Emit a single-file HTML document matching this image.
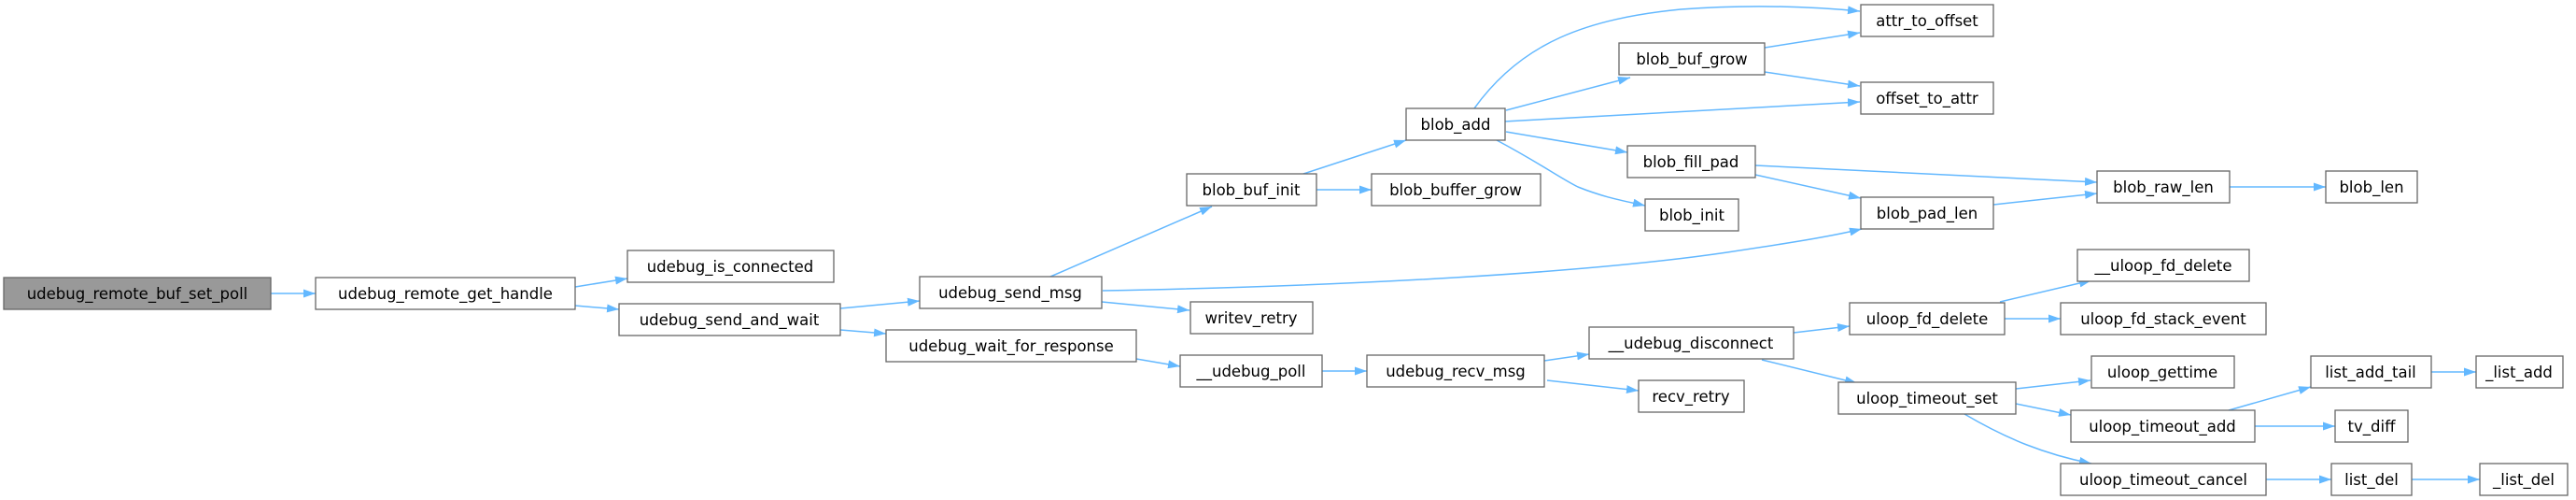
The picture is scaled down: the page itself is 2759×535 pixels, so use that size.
<!DOCTYPE html>
<html><head><meta charset="utf-8"><style>
html,body{margin:0;padding:0;background:#fff;}
svg{display:block;}
text{font-family:"DejaVu Sans","Liberation Sans",sans-serif;font-size:16.5px;fill:#000;text-anchor:middle;}
rect{fill:#fff;stroke:#666;stroke-width:1.3;}
path.e{fill:none;stroke:#63b8ff;stroke-width:1.5;}
</style></head><body>
<svg width="2759" height="535" viewBox="0 0 2759 535" xmlns="http://www.w3.org/2000/svg">
<defs><marker id="a" markerUnits="userSpaceOnUse" markerWidth="14" markerHeight="10" refX="13" refY="4.5" orient="auto"><path d="M0,0 L13,4.5 L0,9 z" fill="#63b8ff"/></marker></defs>
<g marker-end="url(#a)">
<path class="e" d="M290,314 L338,314"/>
<path class="e" d="M616,307 L672,298"/>
<path class="e" d="M616,327 L663,331"/>
<path class="e" d="M900,330 L985,322"/>
<path class="e" d="M900,353 L949,357"/>
<path class="e" d="M1125,296 L1298,221"/>
<path class="e" d="M1180,323 L1274,332"/>
<path class="e" d="M1181,311 C1450,306 1700,292 1850,270 C1930,258 1965,252 1994,245"/>
<path class="e" d="M1217,384 L1264,392"/>
<path class="e" d="M1416,397 L1464,397"/>
<path class="e" d="M1654,386 L1702,379"/>
<path class="e" d="M1657,407 L1755,418"/>
<path class="e" d="M1396,186 L1506,150"/>
<path class="e" d="M1410,203 L1469,203"/>
<path class="e" d="M1579,116 C1630,45 1700,20 1800,10 C1880,4 1950,8 1992,12"/>
<path class="e" d="M1613,118 L1746,83"/>
<path class="e" d="M1611,130 L1992,109"/>
<path class="e" d="M1613,141 L1743,163"/>
<path class="e" d="M1603,150 C1650,175 1670,190 1690,200 C1720,212 1740,215 1762,220"/>
<path class="e" d="M1890,51 L1992,35"/>
<path class="e" d="M1890,77 L1992,92"/>
<path class="e" d="M1880,177 L2246,195"/>
<path class="e" d="M1880,187 L1993,212"/>
<path class="e" d="M2135,219 L2246,207"/>
<path class="e" d="M2388,200 L2491,200"/>
<path class="e" d="M1921,356 L1981,349"/>
<path class="e" d="M1887,385 L1989,410"/>
<path class="e" d="M2142,323 L2240,300"/>
<path class="e" d="M2147,341 L2207,341"/>
<path class="e" d="M2159,416 L2239,407"/>
<path class="e" d="M2159,432 L2218,444"/>
<path class="e" d="M2104,443 C2150,470 2190,486 2240,496"/>
<path class="e" d="M2387,439 L2475,414"/>
<path class="e" d="M2415,456 L2501,456"/>
<path class="e" d="M2604,398 L2652,398"/>
<path class="e" d="M2427,513 L2497,513"/>
<path class="e" d="M2583,513 L2656,513"/>
</g>
<rect x="4" y="297" width="286" height="34" style="fill:#999"/><text x="147" y="320">udebug_remote_buf_set_poll</text>
<rect x="338" y="297" width="278" height="34"/><text x="477" y="320">udebug_remote_get_handle</text>
<rect x="672" y="268" width="221" height="34"/><text x="782" y="291">udebug_is_connected</text>
<rect x="663" y="325" width="237" height="34"/><text x="781" y="348">udebug_send_and_wait</text>
<rect x="985" y="296" width="195" height="34"/><text x="1082" y="319">udebug_send_msg</text>
<rect x="1275" y="323" width="131" height="34"/><text x="1340" y="346">writev_retry</text>
<rect x="949" y="353" width="268" height="34"/><text x="1083" y="376">udebug_wait_for_response</text>
<rect x="1264" y="380" width="152" height="34"/><text x="1340" y="403">__udebug_poll</text>
<rect x="1464" y="380" width="190" height="34"/><text x="1559" y="403">udebug_recv_msg</text>
<rect x="1271" y="186" width="139" height="34"/><text x="1340" y="209">blob_buf_init</text>
<rect x="1469" y="186" width="181" height="34"/><text x="1559" y="209">blob_buffer_grow</text>
<rect x="1506" y="116" width="106" height="34"/><text x="1559" y="139">blob_add</text>
<rect x="1702" y="350" width="219" height="34"/><text x="1811" y="373">__udebug_disconnect</text>
<rect x="1755" y="407" width="113" height="34"/><text x="1811" y="430">recv_retry</text>
<rect x="1734" y="46" width="156" height="34"/><text x="1812" y="69">blob_buf_grow</text>
<rect x="1743" y="156" width="137" height="34"/><text x="1811" y="179">blob_fill_pad</text>
<rect x="1762" y="213" width="100" height="34"/><text x="1812" y="236">blob_init</text>
<rect x="1993" y="5" width="142" height="34"/><text x="2064" y="28">attr_to_offset</text>
<rect x="1993" y="88" width="142" height="34"/><text x="2064" y="111">offset_to_attr</text>
<rect x="2246" y="183" width="142" height="34"/><text x="2317" y="206">blob_raw_len</text>
<rect x="2491" y="183" width="98" height="34"/><text x="2540" y="206">blob_len</text>
<rect x="1993" y="211" width="142" height="34"/><text x="2064" y="234">blob_pad_len</text>
<rect x="2225" y="267" width="184" height="34"/><text x="2317" y="290">__uloop_fd_delete</text>
<rect x="1981" y="324" width="166" height="34"/><text x="2064" y="347">uloop_fd_delete</text>
<rect x="2207" y="324" width="220" height="34"/><text x="2317" y="347">uloop_fd_stack_event</text>
<rect x="1969" y="409" width="190" height="34"/><text x="2064" y="432">uloop_timeout_set</text>
<rect x="2240" y="381" width="153" height="34"/><text x="2316" y="404">uloop_gettime</text>
<rect x="2218" y="439" width="197" height="34"/><text x="2316" y="462">uloop_timeout_add</text>
<rect x="2475" y="381" width="129" height="34"/><text x="2539" y="404">list_add_tail</text>
<rect x="2652" y="381" width="93" height="34"/><text x="2698" y="404">_list_add</text>
<rect x="2501" y="439" width="78" height="34"/><text x="2540" y="462">tv_diff</text>
<rect x="2207" y="496" width="220" height="34"/><text x="2317" y="519">uloop_timeout_cancel</text>
<rect x="2497" y="496" width="86" height="34"/><text x="2540" y="519">list_del</text>
<rect x="2656" y="496" width="94" height="34"/><text x="2703" y="519">_list_del</text>
</svg>
</body></html>
